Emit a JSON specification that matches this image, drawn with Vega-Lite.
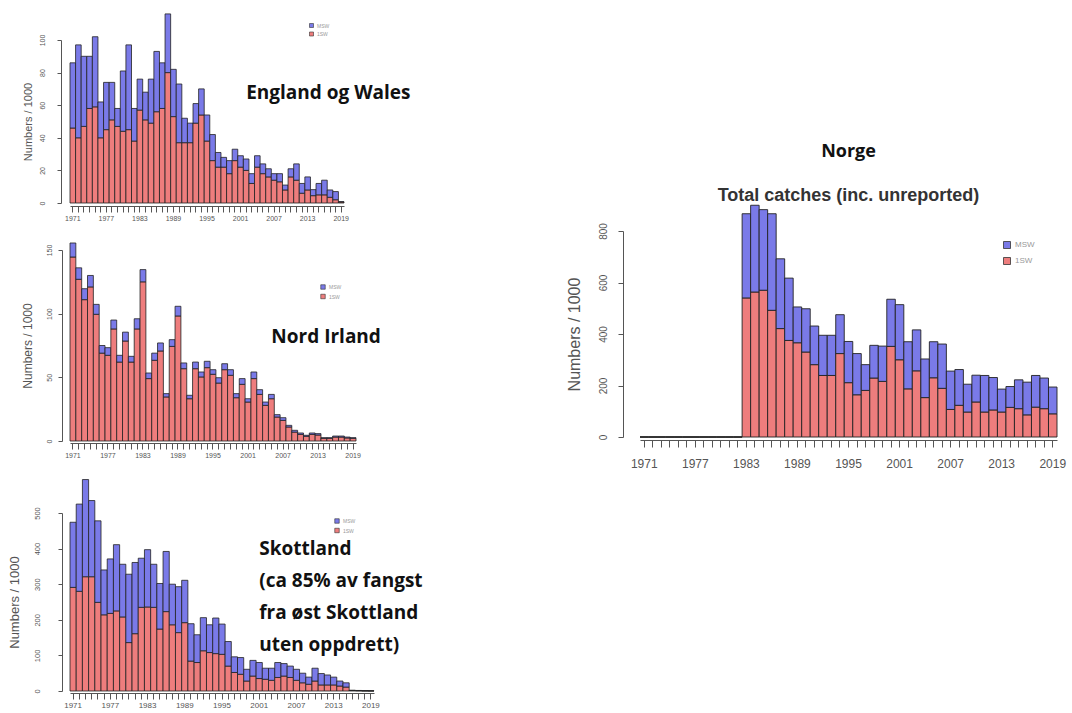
{
  "$schema": "https://vega.github.io/schema/vega-lite/v6.json",
  "padding": {"left": 8, "top": 13, "right": 2, "bottom": 2},
  "background": "white",
  "config": {"view": {"stroke": null}, "font": "Liberation Sans"},
  "datasets": {
    "eng": [
      {"year": 1971, "1SW": 46, "MSW": 40}, {"year": 1972, "1SW": 40, "MSW": 57}, {"year": 1973, "1SW": 47, "MSW": 43},
      {"year": 1974, "1SW": 58, "MSW": 32}, {"year": 1975, "1SW": 59, "MSW": 43}, {"year": 1976, "1SW": 40, "MSW": 22},
      {"year": 1977, "1SW": 45, "MSW": 29}, {"year": 1978, "1SW": 51, "MSW": 23}, {"year": 1979, "1SW": 47, "MSW": 11},
      {"year": 1980, "1SW": 44, "MSW": 37}, {"year": 1981, "1SW": 45, "MSW": 52}, {"year": 1982, "1SW": 38, "MSW": 20},
      {"year": 1983, "1SW": 57, "MSW": 19}, {"year": 1984, "1SW": 51, "MSW": 17}, {"year": 1985, "1SW": 49, "MSW": 27},
      {"year": 1986, "1SW": 56, "MSW": 37}, {"year": 1987, "1SW": 58, "MSW": 28}, {"year": 1988, "1SW": 80, "MSW": 36},
      {"year": 1989, "1SW": 53, "MSW": 29}, {"year": 1990, "1SW": 37, "MSW": 36}, {"year": 1991, "1SW": 37, "MSW": 15},
      {"year": 1992, "1SW": 37, "MSW": 12}, {"year": 1993, "1SW": 49, "MSW": 12}, {"year": 1994, "1SW": 54, "MSW": 16},
      {"year": 1995, "1SW": 38, "MSW": 16}, {"year": 1996, "1SW": 26, "MSW": 16}, {"year": 1997, "1SW": 22, "MSW": 9},
      {"year": 1998, "1SW": 22, "MSW": 6}, {"year": 1999, "1SW": 18, "MSW": 8}, {"year": 2000, "1SW": 26, "MSW": 7},
      {"year": 2001, "1SW": 22, "MSW": 7}, {"year": 2002, "1SW": 20, "MSW": 7}, {"year": 2003, "1SW": 12, "MSW": 6},
      {"year": 2004, "1SW": 22, "MSW": 7}, {"year": 2005, "1SW": 18, "MSW": 6}, {"year": 2006, "1SW": 16, "MSW": 5},
      {"year": 2007, "1SW": 14, "MSW": 4}, {"year": 2008, "1SW": 13, "MSW": 5}, {"year": 2009, "1SW": 8, "MSW": 3},
      {"year": 2010, "1SW": 16, "MSW": 5}, {"year": 2011, "1SW": 14, "MSW": 10}, {"year": 2012, "1SW": 6, "MSW": 6},
      {"year": 2013, "1SW": 8, "MSW": 8}, {"year": 2014, "1SW": 4.5, "MSW": 3.7}, {"year": 2015, "1SW": 5, "MSW": 7},
      {"year": 2016, "1SW": 5, "MSW": 9}, {"year": 2017, "1SW": 3.5, "MSW": 4.5}, {"year": 2018, "1SW": 2, "MSW": 5},
      {"year": 2019, "1SW": 0.6, "MSW": 0.2}
    ],
    "nir": [
      {"year": 1971, "1SW": 144.5, "MSW": 11}, {"year": 1972, "1SW": 127, "MSW": 9}, {"year": 1973, "1SW": 111, "MSW": 8.6},
      {"year": 1974, "1SW": 121, "MSW": 9}, {"year": 1975, "1SW": 99.5, "MSW": 7.8}, {"year": 1976, "1SW": 69, "MSW": 6},
      {"year": 1977, "1SW": 67.3, "MSW": 6}, {"year": 1978, "1SW": 88, "MSW": 7}, {"year": 1979, "1SW": 62, "MSW": 5.3},
      {"year": 1980, "1SW": 78.5, "MSW": 7}, {"year": 1981, "1SW": 62, "MSW": 4.5}, {"year": 1982, "1SW": 88, "MSW": 8},
      {"year": 1983, "1SW": 125, "MSW": 9.6}, {"year": 1984, "1SW": 49, "MSW": 4.4}, {"year": 1985, "1SW": 63.4, "MSW": 5.6},
      {"year": 1986, "1SW": 70.7, "MSW": 6.3}, {"year": 1987, "1SW": 34.6, "MSW": 2.6}, {"year": 1988, "1SW": 74.3, "MSW": 5.3},
      {"year": 1989, "1SW": 98.2, "MSW": 7.6}, {"year": 1990, "1SW": 56.8, "MSW": 4.5}, {"year": 1991, "1SW": 33.2, "MSW": 2.7},
      {"year": 1992, "1SW": 56.8, "MSW": 5.2}, {"year": 1993, "1SW": 50.3, "MSW": 3.9}, {"year": 1994, "1SW": 57.6, "MSW": 5},
      {"year": 1995, "1SW": 52.4, "MSW": 3.6}, {"year": 1996, "1SW": 45.5, "MSW": 4.2}, {"year": 1997, "1SW": 56, "MSW": 4.7},
      {"year": 1998, "1SW": 51.6, "MSW": 4.4}, {"year": 1999, "1SW": 34, "MSW": 3.2}, {"year": 2000, "1SW": 44.5, "MSW": 4.5},
      {"year": 2001, "1SW": 30.6, "MSW": 2.6}, {"year": 2002, "1SW": 49, "MSW": 5.2}, {"year": 2003, "1SW": 36.6, "MSW": 3.7},
      {"year": 2004, "1SW": 28, "MSW": 2.6}, {"year": 2005, "1SW": 33.2, "MSW": 3.4}, {"year": 2006, "1SW": 18.8, "MSW": 1.9},
      {"year": 2007, "1SW": 16.2, "MSW": 2.1}, {"year": 2008, "1SW": 11, "MSW": 1.3}, {"year": 2009, "1SW": 7, "MSW": 1.4},
      {"year": 2010, "1SW": 5.2, "MSW": 1.1}, {"year": 2011, "1SW": 3.7, "MSW": 0.8}, {"year": 2012, "1SW": 5.2, "MSW": 1.1},
      {"year": 2013, "1SW": 4.7, "MSW": 1.1}, {"year": 2014, "1SW": 2.1, "MSW": 0.5}, {"year": 2015, "1SW": 2.1, "MSW": 0.5},
      {"year": 2016, "1SW": 3.1, "MSW": 0.8}, {"year": 2017, "1SW": 3.1, "MSW": 0.8}, {"year": 2018, "1SW": 2.4, "MSW": 0.7},
      {"year": 2019, "1SW": 2.1, "MSW": 0.5}
    ],
    "sco": [
      {"year": 1971, "1SW": 291, "MSW": 183}, {"year": 1972, "1SW": 280, "MSW": 245}, {"year": 1973, "1SW": 321, "MSW": 273},
      {"year": 1974, "1SW": 321, "MSW": 214}, {"year": 1975, "1SW": 249, "MSW": 229}, {"year": 1976, "1SW": 214, "MSW": 126},
      {"year": 1977, "1SW": 218, "MSW": 153}, {"year": 1978, "1SW": 225, "MSW": 186}, {"year": 1979, "1SW": 208, "MSW": 148},
      {"year": 1980, "1SW": 136, "MSW": 192}, {"year": 1981, "1SW": 161, "MSW": 200}, {"year": 1982, "1SW": 235, "MSW": 138},
      {"year": 1983, "1SW": 236, "MSW": 161}, {"year": 1984, "1SW": 235, "MSW": 121}, {"year": 1985, "1SW": 174, "MSW": 128},
      {"year": 1986, "1SW": 223, "MSW": 169}, {"year": 1987, "1SW": 186, "MSW": 114}, {"year": 1988, "1SW": 164, "MSW": 129},
      {"year": 1989, "1SW": 192, "MSW": 119}, {"year": 1990, "1SW": 84, "MSW": 105}, {"year": 1991, "1SW": 80, "MSW": 78},
      {"year": 1992, "1SW": 113, "MSW": 93}, {"year": 1993, "1SW": 108, "MSW": 78}, {"year": 1994, "1SW": 105, "MSW": 100},
      {"year": 1995, "1SW": 103, "MSW": 85}, {"year": 1996, "1SW": 70, "MSW": 69}, {"year": 1997, "1SW": 52, "MSW": 44},
      {"year": 1998, "1SW": 47, "MSW": 47}, {"year": 1999, "1SW": 28, "MSW": 33}, {"year": 2000, "1SW": 42, "MSW": 44},
      {"year": 2001, "1SW": 35, "MSW": 45}, {"year": 2002, "1SW": 33, "MSW": 31}, {"year": 2003, "1SW": 30, "MSW": 34},
      {"year": 2004, "1SW": 38, "MSW": 42}, {"year": 2005, "1SW": 42, "MSW": 35}, {"year": 2006, "1SW": 38, "MSW": 32},
      {"year": 2007, "1SW": 30, "MSW": 31}, {"year": 2008, "1SW": 23, "MSW": 27}, {"year": 2009, "1SW": 19, "MSW": 20},
      {"year": 2010, "1SW": 28, "MSW": 36}, {"year": 2011, "1SW": 17, "MSW": 32}, {"year": 2012, "1SW": 17, "MSW": 28},
      {"year": 2013, "1SW": 17, "MSW": 22}, {"year": 2014, "1SW": 14, "MSW": 14}, {"year": 2015, "1SW": 11, "MSW": 12},
      {"year": 2016, "1SW": 1.5, "MSW": 0.5}, {"year": 2017, "1SW": 1, "MSW": 0.5}, {"year": 2018, "1SW": 0.5, "MSW": 0.3},
      {"year": 2019, "1SW": 0.3, "MSW": 0.2}
    ],
    "nor": [
      {"year": 1971, "1SW": 0, "MSW": 0}, {"year": 1972, "1SW": 0, "MSW": 0}, {"year": 1973, "1SW": 0, "MSW": 0},
      {"year": 1974, "1SW": 0, "MSW": 0}, {"year": 1975, "1SW": 0, "MSW": 0}, {"year": 1976, "1SW": 0, "MSW": 0},
      {"year": 1977, "1SW": 0, "MSW": 0}, {"year": 1978, "1SW": 0, "MSW": 0}, {"year": 1979, "1SW": 0, "MSW": 0},
      {"year": 1980, "1SW": 0, "MSW": 0}, {"year": 1981, "1SW": 0, "MSW": 0}, {"year": 1982, "1SW": 0, "MSW": 0},
      {"year": 1983, "1SW": 540, "MSW": 327}, {"year": 1984, "1SW": 563, "MSW": 337}, {"year": 1985, "1SW": 570, "MSW": 313},
      {"year": 1986, "1SW": 492, "MSW": 375}, {"year": 1987, "1SW": 421, "MSW": 271}, {"year": 1988, "1SW": 375, "MSW": 242},
      {"year": 1989, "1SW": 366, "MSW": 139}, {"year": 1990, "1SW": 330, "MSW": 168}, {"year": 1991, "1SW": 281, "MSW": 150},
      {"year": 1992, "1SW": 239, "MSW": 156}, {"year": 1993, "1SW": 239, "MSW": 156}, {"year": 1994, "1SW": 324, "MSW": 151},
      {"year": 1995, "1SW": 211, "MSW": 160}, {"year": 1996, "1SW": 164, "MSW": 160}, {"year": 1997, "1SW": 181, "MSW": 100},
      {"year": 1998, "1SW": 229, "MSW": 127}, {"year": 1999, "1SW": 216, "MSW": 137}, {"year": 2000, "1SW": 352, "MSW": 183},
      {"year": 2001, "1SW": 300, "MSW": 214}, {"year": 2002, "1SW": 187, "MSW": 183}, {"year": 2003, "1SW": 257, "MSW": 159},
      {"year": 2004, "1SW": 153, "MSW": 150}, {"year": 2005, "1SW": 230, "MSW": 140}, {"year": 2006, "1SW": 189, "MSW": 172},
      {"year": 2007, "1SW": 107, "MSW": 149}, {"year": 2008, "1SW": 123, "MSW": 139}, {"year": 2009, "1SW": 97, "MSW": 108},
      {"year": 2010, "1SW": 136, "MSW": 104}, {"year": 2011, "1SW": 97, "MSW": 142}, {"year": 2012, "1SW": 105, "MSW": 126},
      {"year": 2013, "1SW": 97, "MSW": 89}, {"year": 2014, "1SW": 115, "MSW": 81}, {"year": 2015, "1SW": 110, "MSW": 112},
      {"year": 2016, "1SW": 86, "MSW": 127}, {"year": 2017, "1SW": 116, "MSW": 123}, {"year": 2018, "1SW": 110, "MSW": 119},
      {"year": 2019, "1SW": 90, "MSW": 104}
    ]
  },
  "resolve": {"scale": {"color": "independent"}, "legend": {"color": "independent"}},
  "spacing": 143,
  "hconcat": [
    {
      "spacing": 21,
      "resolve": {"scale": {"color": "independent"}, "legend": {"color": "independent"}},
      "vconcat": [
        {
          "width": 274, "height": 163,
          "data": {"name": "eng"},
          "layer": [
            {
              "transform": [{"fold": ["1SW", "MSW"], "as": ["stage", "n"]}],
              "mark": {"type": "bar", "stroke": "#222", "strokeWidth": 0.8},
              "encoding": {
                "x": {"field": "year", "type": "ordinal", "scale": {"paddingInner": 0, "paddingOuter": 0},
                  "axis": {"title": null, "labelExpr": "(datum.value - 1971) % 6 == 0 ? datum.label : ''", "labelAngle": 0, "labelOverlap": false, "labelFlush": false, "labelFontSize": 7, "labelColor": "#555", "labelPadding": 2, "tickSize": 6, "tickColor": "#555", "domainColor": "#555", "offset": 3, "grid": false}},
                "y": {"field": "n", "type": "quantitative", "stack": "zero", "scale": {"domain": [0, 100], "nice": false},
                  "axis": {"title": "Numbers / 1000", "values": [0, 20, 40, 60, 80, 100], "labelOverlap": false, "labelAngle": 270, "labelAlign": "center", "labelBaseline": "bottom", "labelFontSize": 7, "labelColor": "#555", "labelPadding": 12, "tickSize": 4, "tickColor": "#555", "domainColor": "#555", "offset": 9, "grid": false, "titleFontSize": 11, "titleFontWeight": "normal", "titleColor": "#555", "titlePadding": 5}},
                "color": {"field": "stage", "type": "nominal", "scale": {"domain": ["MSW", "1SW"], "range": ["#7a7ae8", "#ee7d7d"]},
                  "legend": {"title": null, "orient": "none", "legendX": 239, "legendY": -17, "symbolType": "square", "symbolSize": 16, "symbolStrokeColor": "#333", "symbolStrokeWidth": 0.6, "labelFontSize": 5, "labelColor": "#999", "rowPadding": 1.5, "labelOffset": 3, "padding": 0}},
                "order": {"field": "stage", "sort": "ascending"}
              }
            },
            {
              "data": {"values": [{}]},
              "mark": {"type": "text", "font": "Open Sans", "fontWeight": "bold", "fontSize": 19, "align": "left", "baseline": "alphabetic", "color": "#111"},
              "encoding": {
                "x": {"datum": 2002, "type": "ordinal"},
                "y": {"datum": 64, "type": "quantitative",
                  "axis": {"title": "Numbers / 1000", "values": [0, 20, 40, 60, 80, 100], "labelOverlap": false, "labelAngle": 270, "labelAlign": "center", "labelBaseline": "bottom", "labelFontSize": 7, "labelColor": "#555", "labelPadding": 12, "tickSize": 4, "tickColor": "#555", "domainColor": "#555", "offset": 9, "grid": false, "titleFontSize": 11, "titleFontWeight": "normal", "titleColor": "#555", "titlePadding": 5}},
                "text": {"value": "England og Wales"}
              }
            }
          ]
        },
        {
          "width": 286, "height": 191,
          "data": {"name": "nir"},
          "layer": [
            {
              "transform": [{"fold": ["1SW", "MSW"], "as": ["stage", "n"]}],
              "mark": {"type": "bar", "stroke": "#222", "strokeWidth": 0.8},
              "encoding": {
                "x": {"field": "year", "type": "ordinal", "scale": {"paddingInner": 0, "paddingOuter": 0},
                  "axis": {"title": null, "labelExpr": "(datum.value - 1971) % 6 == 0 ? datum.label : ''", "labelAngle": 0, "labelOverlap": false, "labelFlush": false, "labelFontSize": 7, "labelColor": "#555", "labelPadding": 2, "tickSize": 6, "tickColor": "#555", "domainColor": "#555", "offset": 2, "grid": false}},
                "y": {"field": "n", "type": "quantitative", "stack": "zero", "scale": {"domain": [0, 150], "nice": false},
                  "axis": {"title": "Numbers / 1000", "values": [0, 50, 100, 150], "labelOverlap": false, "labelAngle": 270, "labelAlign": "center", "labelBaseline": "bottom", "labelFontSize": 7, "labelColor": "#555", "labelPadding": 6, "tickSize": 4, "tickColor": "#555", "domainColor": "#555", "offset": 8, "grid": false, "titleFontSize": 12, "titleFontWeight": "normal", "titleColor": "#555", "titlePadding": 11}},
                "color": {"field": "stage", "type": "nominal", "scale": {"domain": ["MSW", "1SW"], "range": ["#7a7ae8", "#ee7d7d"]},
                  "legend": {"title": null, "orient": "none", "legendX": 250, "legendY": 34, "symbolType": "square", "symbolSize": 20, "symbolStrokeColor": "#333", "symbolStrokeWidth": 0.6, "labelFontSize": 5, "labelColor": "#999", "rowPadding": 1.5, "labelOffset": 3, "padding": 0}},
                "order": {"field": "stage", "sort": "ascending"}
              }
            },
            {
              "data": {"values": [{}]},
              "mark": {"type": "text", "font": "Open Sans", "fontWeight": "bold", "fontSize": 19, "align": "left", "baseline": "alphabetic", "color": "#111"},
              "encoding": {
                "x": {"datum": 2005, "type": "ordinal"},
                "y": {"datum": 77, "type": "quantitative",
                  "axis": {"title": "Numbers / 1000", "values": [0, 50, 100, 150], "labelOverlap": false, "labelAngle": 270, "labelAlign": "center", "labelBaseline": "bottom", "labelFontSize": 7, "labelColor": "#555", "labelPadding": 6, "tickSize": 4, "tickColor": "#555", "domainColor": "#555", "offset": 8, "grid": false, "titleFontSize": 12, "titleFontWeight": "normal", "titleColor": "#555", "titlePadding": 11}},
                "text": {"value": "Nord Irland"}
              }
            }
          ]
        },
        {
          "width": 304, "height": 178,
          "data": {"name": "sco"},
          "layer": [
            {
              "transform": [{"fold": ["1SW", "MSW"], "as": ["stage", "n"]}],
              "mark": {"type": "bar", "stroke": "#222", "strokeWidth": 0.8},
              "encoding": {
                "x": {"field": "year", "type": "ordinal", "scale": {"paddingInner": 0, "paddingOuter": 0},
                  "axis": {"title": null, "labelExpr": "(datum.value - 1971) % 6 == 0 ? datum.label : ''", "labelAngle": 0, "labelOverlap": false, "labelFlush": false, "labelFontSize": 8, "labelColor": "#555", "labelPadding": 2, "tickSize": 6, "tickColor": "#555", "domainColor": "#555", "offset": 2, "grid": false}},
                "y": {"field": "n", "type": "quantitative", "stack": "zero", "scale": {"domain": [0, 500], "nice": false},
                  "axis": {"title": "Numbers / 1000", "values": [0, 100, 200, 300, 400, 500], "labelOverlap": false, "labelAngle": 270, "labelAlign": "center", "labelBaseline": "bottom", "labelFontSize": 7.5, "labelColor": "#555", "labelPadding": 17, "tickSize": 4, "tickColor": "#555", "domainColor": "#555", "offset": 8, "grid": false, "titleFontSize": 13, "titleFontWeight": "normal", "titleColor": "#555", "titlePadding": 12}},
                "color": {"field": "stage", "type": "nominal", "scale": {"domain": ["MSW", "1SW"], "range": ["#7a7ae8", "#ee7d7d"]},
                  "legend": {"title": null, "orient": "none", "legendX": 264, "legendY": 5, "symbolType": "square", "symbolSize": 20, "symbolStrokeColor": "#333", "symbolStrokeWidth": 0.6, "labelFontSize": 5, "labelColor": "#999", "rowPadding": 1.5, "labelOffset": 3, "padding": 0}},
                "order": {"field": "stage", "sort": "ascending"}
              }
            },
            {
              "data": {"values": [{}]},
              "mark": {"type": "text", "font": "Open Sans", "fontWeight": "bold", "fontSize": 19, "align": "left", "baseline": "alphabetic", "lineHeight": 32, "color": "#111"},
              "encoding": {
                "x": {"datum": 2001, "type": "ordinal"},
                "y": {"datum": 383, "type": "quantitative",
                  "axis": {"title": "Numbers / 1000", "values": [0, 100, 200, 300, 400, 500], "labelOverlap": false, "labelAngle": 270, "labelAlign": "center", "labelBaseline": "bottom", "labelFontSize": 7.5, "labelColor": "#555", "labelPadding": 17, "tickSize": 4, "tickColor": "#555", "domainColor": "#555", "offset": 8, "grid": false, "titleFontSize": 13, "titleFontWeight": "normal", "titleColor": "#555", "titlePadding": 12}},
                "text": {"value": ["Skottland", "(ca 85% av fangst", "fra øst Skottland", "uten oppdrett)"]}
              }
            }
          ]
        }
      ]
    },
    {
      "spacing": 0,
      "resolve": {"scale": {"color": "independent"}, "legend": {"color": "independent"}},
      "vconcat": [
        {
          "width": 417, "height": 102,
          "data": {"values": [{}]},
          "mark": {"type": "text"},
          "encoding": {"text": {"value": ""}}
        },
        {
          "width": 417, "height": 206,
          "data": {"name": "nor"},
          "title": {"text": "Norge", "subtitle": "Total catches (inc. unreported)", "frame": "group", "anchor": "middle", "font": "Open Sans", "fontWeight": "bold", "fontSize": 18, "color": "#111", "subtitleFont": "Liberation Sans", "subtitleFontWeight": "bold", "subtitleFontSize": 18, "subtitleColor": "#333", "subtitlePadding": 26, "offset": 0},
          "transform": [{"fold": ["1SW", "MSW"], "as": ["stage", "n"]}],
          "mark": {"type": "bar", "stroke": "#222", "strokeWidth": 0.9},
          "encoding": {
            "x": {"field": "year", "type": "ordinal", "scale": {"paddingInner": 0, "paddingOuter": 0},
              "axis": {"title": null, "labelExpr": "(datum.value - 1971) % 6 == 0 ? datum.label : ''", "labelAngle": 0, "labelOverlap": false, "labelFlush": false, "labelFontSize": 12, "labelColor": "#555", "labelPadding": 11, "tickSize": 7, "tickColor": "#555", "domainColor": "#555", "offset": 3, "grid": false}},
            "y": {"field": "n", "type": "quantitative", "stack": "zero", "scale": {"domain": [0, 800], "nice": false},
              "axis": {"title": "Numbers / 1000", "values": [0, 200, 400, 600, 800], "labelOverlap": false, "labelAngle": 270, "labelAlign": "center", "labelBaseline": "bottom", "labelFontSize": 10, "labelColor": "#555", "labelPadding": 10, "tickSize": 5, "tickColor": "#555", "domainColor": "#555", "offset": 17, "grid": false, "titleFontSize": 16, "titleFontWeight": "normal", "titleColor": "#555", "titlePadding": 16}},
            "color": {"field": "stage", "type": "nominal", "scale": {"domain": ["MSW", "1SW"], "range": ["#7a7ae8", "#ee7d7d"]},
              "legend": {"title": null, "orient": "none", "legendX": 363, "legendY": 10, "symbolType": "square", "symbolSize": 49, "symbolStrokeColor": "#333", "symbolStrokeWidth": 0.8, "labelFontSize": 8, "labelColor": "#999", "rowPadding": 4, "labelOffset": 4, "padding": 0}},
            "order": {"field": "stage", "sort": "ascending"}
          }
        }
      ]
    }
  ]
}
